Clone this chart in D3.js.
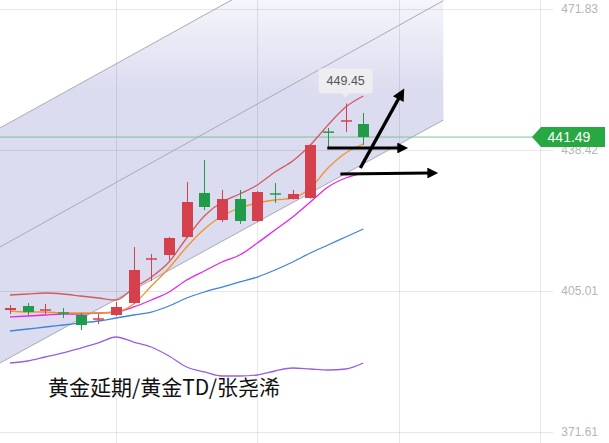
<!DOCTYPE html>
<html><head><meta charset="utf-8">
<script src="https://cdn.jsdelivr.net/npm/d3@7/dist/d3.min.js"></script>
<style>html,body{margin:0;padding:0;background:#fff;overflow:hidden}svg{display:block}</style>
</head><body>
<svg id="c" width="609" height="443"></svg>
<script>
// ---------- data ----------
const categories = ["1","2","3","4","5","6","7","8","9","10","11","12","13","14","15","16","17","18","19","20","21"];
const openV  = [400.51,401.46,400.28,399.85,399.33,398.30,399.33,402.17,412.55,413.55,417.81,428.24,421.84,426.81,421.60,428.05,426.81,427.05,442.75,445.20,444.58];
const highV  = [401.70,402.17,401.94,400.99,399.80,399.57,402.41,415.44,413.80,417.81,430.84,436.05,428.95,428.95,428.70,430.60,428.95,439.80,443.64,449.45,447.19];
const lowV   = [399.57,399.33,399.57,398.62,395.78,397.20,399.09,402.00,407.40,412.36,417.57,424.20,421.36,420.90,421.40,425.87,426.70,426.90,439.13,442.69,439.61];
const closeV = [400.99,400.04,400.75,399.75,396.96,398.45,401.23,409.99,412.65,417.57,426.10,424.92,426.81,421.60,428.47,427.95,428.00,439.61,442.55,445.40,441.49];
const bbUpper = [404.07,404.31,404.54,404.31,403.83,403.36,402.88,405.73,408.33,411.89,417.57,422.79,426.10,428.00,430.13,433.21,435.82,439.61,444.35,448.61,451.22];
const ma5     = [400.28,400.04,400.04,399.80,399.80,399.80,400.04,401.94,406.20,410.47,415.44,419.71,422.79,424.68,425.87,426.58,427.05,429.42,434.16,437.71,439.84];
const ma10    = [398.86,399.09,399.33,399.57,399.57,399.80,400.04,401.23,402.88,404.78,407.62,409.76,411.89,413.55,416.39,419.47,422.55,426.10,429.66,431.79,432.97];
const bbMid   = [395.54,396.01,396.49,396.96,397.43,397.91,398.62,399.33,400.04,401.46,403.36,404.78,405.96,407.15,408.33,409.99,411.89,414.02,415.91,417.81,419.71];
const bbLower = [387.96,388.43,389.38,390.33,391.51,392.70,394.12,392.93,391.75,389.62,387.01,385.83,384.88,384.88,385.11,386.06,386.77,386.54,386.30,386.54,387.96];
const yTicks = [471.83, 438.42, 405.01, 371.61];
const xGridIdx = [6, 14, 22, 30];
const lastPrice = 441.49;
const peakPrice = 449.45;
const peakIdx = 19;
// channel lines [index, price]
const chanUpper = [[-0.57, 443.64], [24.53, 501.68]];
const chanMid   = [[-0.57, 415.44], [24.53, 473.80]];
const chanLower = [[-0.57, 387.96], [24.53, 445.53]];
// hand-drawn arrows [index, price]
const arrows = [
  {from:[17.96, 438.90], to:[22.5, 438.90], w:3},
  {from:[19.83, 434.16], to:[22.5, 450.98], w:3.4},
  {from:[18.70, 432.74], to:[24.2, 432.97], w:3}
];
const caption = "黄金延期/黄金TD/张尧浠";

// ---------- scales ----------
const W = 609, H = 443;
const x = d3.scaleLinear().domain([0, 30]).range([10, 540]);
const y = d3.scaleLinear().domain([371.61, 471.83]).range([432, 9]);
const svg = d3.select("#c");
const defs = svg.append("defs");

const grad = defs.append("linearGradient").attr("id","chanG").attr("x1",0).attr("x2",0)
  .attr("gradientUnits","userSpaceOnUse").attr("y1",0).attr("y2",90);
grad.append("stop").attr("offset",0).attr("stop-color","#f5f5fb");
grad.append("stop").attr("offset",1).attr("stop-color","#dcdcf0");

defs.append("clipPath").attr("id","plotClip").append("rect").attr("x",0).attr("y",0).attr("width",W).attr("height",H);

// channel fill
const chanPoly = [
  [x(chanUpper[0][0]), y(chanUpper[0][1])],
  [x(chanUpper[1][0]), y(chanUpper[1][1])],
  [x(chanLower[1][0]), y(chanLower[1][1])],
  [x(chanLower[0][0]), y(chanLower[0][1])]
];
svg.append("path").attr("d", d3.line()(chanPoly) + "Z").attr("fill","url(#chanG)").attr("clip-path","url(#plotClip)");

// grid lines
svg.append("g").selectAll("line").data(yTicks).join("line")
  .attr("x1",0).attr("x2",553).attr("y1",d=>Math.round(y(d))+0.5).attr("y2",d=>Math.round(y(d))+0.5)
  .attr("stroke","rgba(0,0,0,0.09)").attr("stroke-width",1);
svg.append("g").selectAll("line").data(xGridIdx).join("line")
  .attr("x1",d=>Math.round(x(d))+0.5).attr("x2",d=>Math.round(x(d))+0.5).attr("y1",0).attr("y2",H)
  .attr("stroke","rgba(0,0,0,0.09)").attr("stroke-width",1);

// channel lines
[chanUpper, chanMid, chanLower].forEach(c => {
  svg.append("line").attr("x1",x(c[0][0])).attr("y1",y(c[0][1])).attr("x2",x(c[1][0])).attr("y2",y(c[1][1]))
    .attr("stroke","#a9a9b6").attr("stroke-width",1).attr("clip-path","url(#plotClip)");
});

// current price line
svg.append("line").attr("x1",0).attr("x2",534).attr("y1",y(lastPrice)).attr("y2",y(lastPrice))
  .attr("stroke","#7fc48f").attr("stroke-width",1);

// indicator lines
const lineGen = arr => d3.line().x((d,i)=>x(i)).y(d=>y(d)).curve(d3.curveMonotoneX)(arr);
const lines = [
  {d:bbLower, c:"#9a5fe0"},
  {d:bbMid,   c:"#3d84dd"},
  {d:ma10,    c:"#e824e6"},
  {d:bbUpper, c:"#d25a5e"},
  {d:ma5,     c:"#f29126"}
];
lines.forEach(l => svg.append("path").attr("d", lineGen(l.d)).attr("fill","none").attr("stroke",l.c).attr("stroke-width",1.3));

// candles
const up = "#d4404c", down = "#1f9b4a";
const bw = 11;
const cg = svg.append("g");
categories.forEach((cat,i) => {
  const o = openV[i], c = closeV[i], h = highV[i], l = lowV[i];
  const isUp = c >= o;
  const col = isUp ? up : down;
  const cx = Math.round(x(i)) + 0.5;
  cg.append("line").attr("x1",cx).attr("x2",cx).attr("y1",y(h)).attr("y2",y(l)).attr("stroke",col).attr("stroke-width",1);
  const top = y(Math.max(o,c)), bot = y(Math.min(o,c));
  if (bot - top < 2) {
    cg.append("line").attr("x1",cx-bw/2).attr("x2",cx+bw/2).attr("y1",(top+bot)/2).attr("y2",(top+bot)/2)
      .attr("stroke",col).attr("stroke-width",1.5);
  } else {
    cg.append("rect").attr("x",cx-bw/2).attr("y",top).attr("width",bw).attr("height",bot-top).attr("fill",col);
  }
});

// arrows
defs.append("marker").attr("id","ah").attr("viewBox","0 0 10 10").attr("refX",2).attr("refY",5)
  .attr("markerWidth",5).attr("markerHeight",3.6).attr("markerUnits","strokeWidth").attr("orient","auto")
  .append("path").attr("d","M0,0 L10,5 L0,10 Z").attr("fill","#000");
arrows.forEach(a => {
  svg.append("line").attr("x1",x(a.from[0])).attr("y1",y(a.from[1])).attr("x2",x(a.to[0])-8).attr("y2",y(a.to[1]))
    .attr("stroke","#000").attr("stroke-width",a.w).attr("marker-end","url(#ah)");
});

// right axis labels
const axis = d3.axisRight(y).tickValues(yTicks).tickSize(0).tickPadding(0).tickFormat(d3.format(".2f"));
const ag = svg.append("g").attr("transform","translate(598,0)").call(axis);
ag.select(".domain").remove();
ag.selectAll("text").attr("text-anchor","end").attr("fill","#b5b5b5")
  .style("font-family","'Liberation Sans', Arial, sans-serif").style("font-size","12px");

// last price label
const ly = y(lastPrice);
svg.append("path").attr("d", `M532,${ly} L541,${ly-10} L605,${ly-10} L605,${ly+10} L541,${ly+10} Z`).attr("fill","#27a843");
svg.append("text").attr("x",569).attr("y",ly).attr("dy","0.36em").attr("text-anchor","middle")
  .attr("fill","#fff").style("font-family","'Liberation Sans', Arial, sans-serif").style("font-size","14px")
  .text(d3.format(".2f")(lastPrice));

// peak tooltip
const px = x(peakIdx), py = y(peakPrice);
const tg = svg.append("g");
tg.append("rect").attr("x",px-27).attr("y",py-35).attr("width",54).attr("height",25).attr("rx",2)
  .attr("fill","#eeeeef").attr("opacity",0.95);
tg.append("path").attr("d",`M${px-4},${py-10} L${px},${py-6} L${px+4},${py-10} Z`).attr("fill","#eeeeef");
tg.append("text").attr("x",px).attr("y",py-22.5).attr("dy","0.36em").attr("text-anchor","middle")
  .attr("fill","#555").style("font-family","'Liberation Sans', Arial, sans-serif").style("font-size","12.5px")
  .text(d3.format(".2f")(peakPrice));

// caption
svg.append("text").attr("x",48).attr("y",395).attr("fill","#111")
  .style("font-family","'Noto Sans CJK SC', sans-serif").style("font-size","21px")
  .text(caption);
</script>
</body></html>
